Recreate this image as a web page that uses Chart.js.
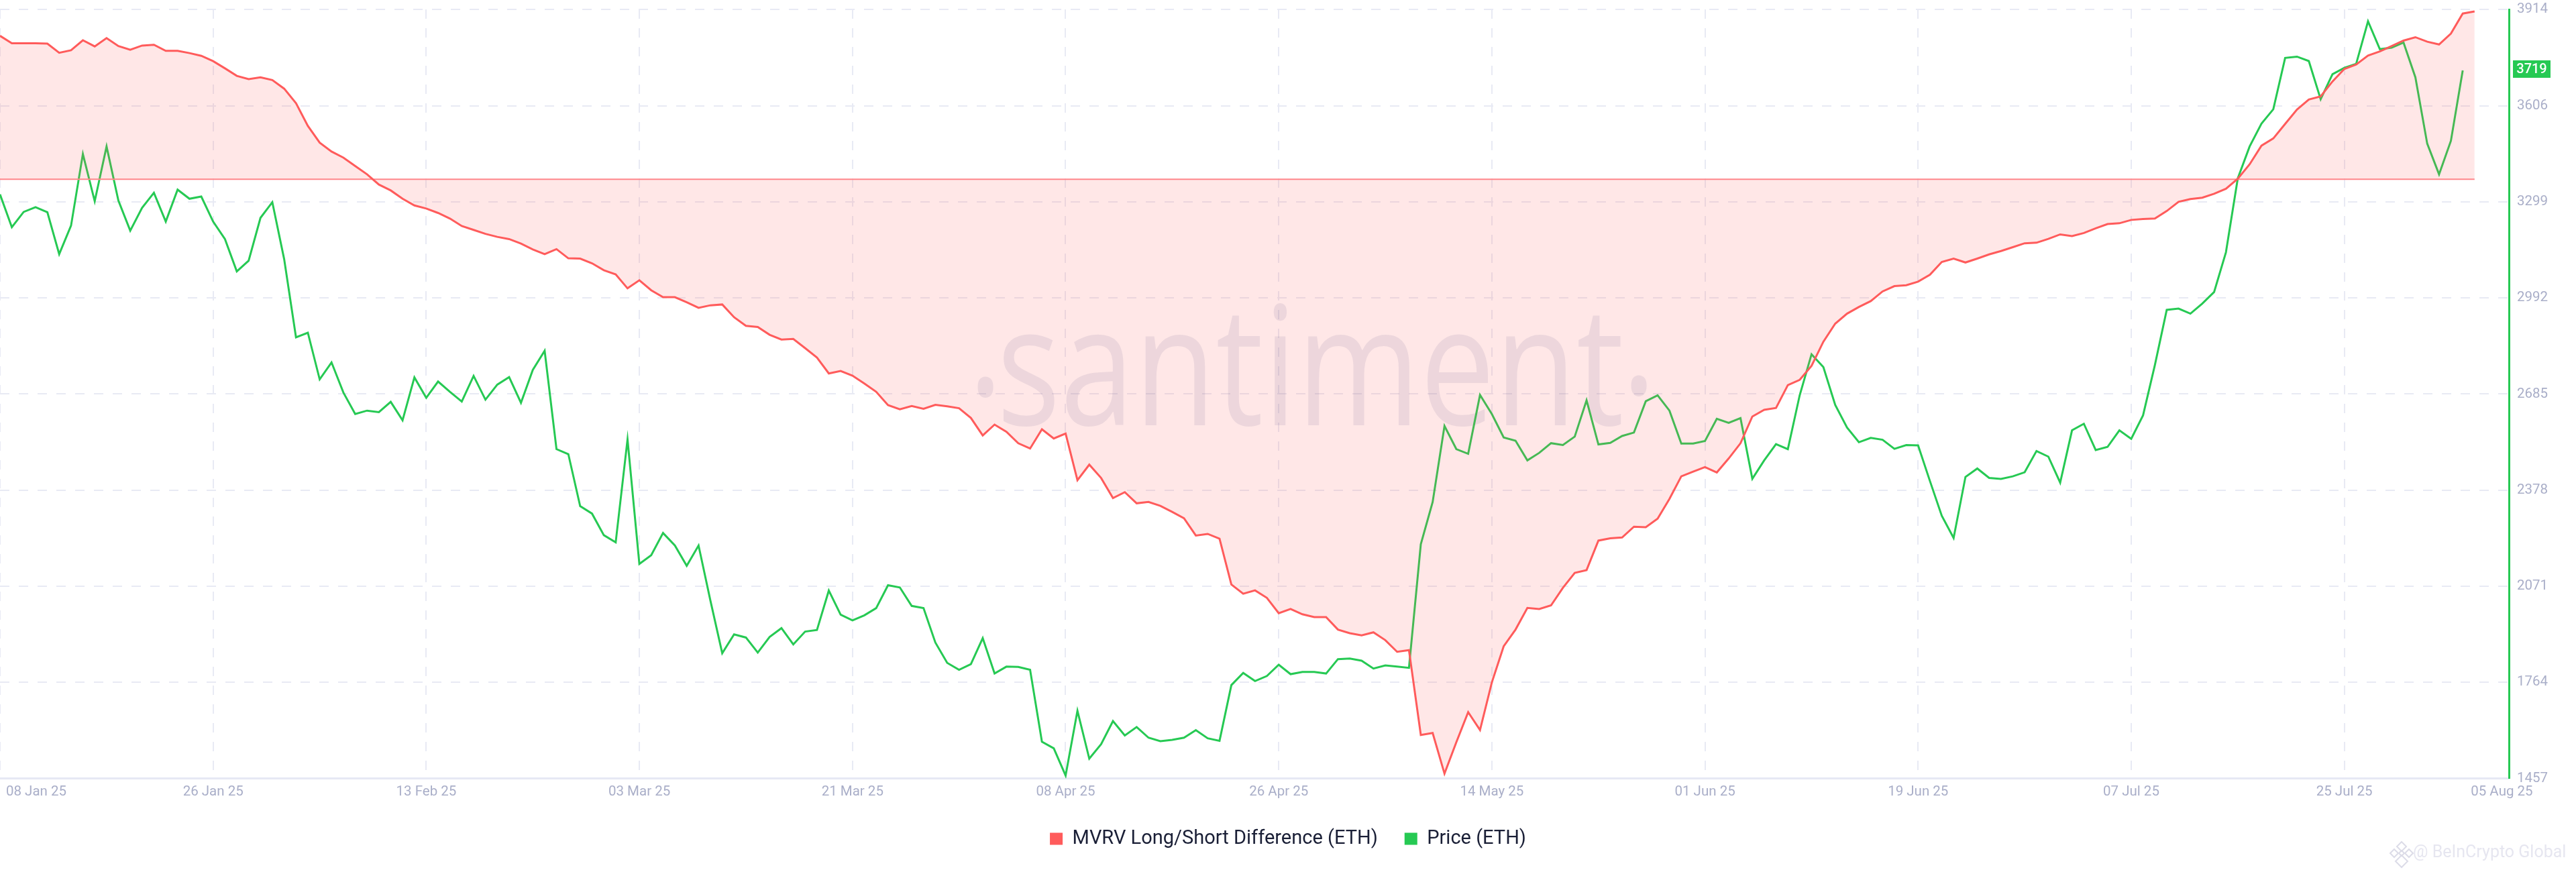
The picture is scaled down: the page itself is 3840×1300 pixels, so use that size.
<!DOCTYPE html>
<html><head><meta charset="utf-8">
<style>html,body{margin:0;padding:0;background:#fff}canvas{display:block}</style>
<script src="https://cdn.jsdelivr.net/npm/chart.js@4"></script>
</head><body><canvas id="c" width="3840" height="1300"></canvas>
<script>
const seriesNames = ["MVRV Long/Short Difference (ETH)", "Price (ETH)"];
const xTickDays = [3.06,18,36,54,72,90,108,126,144,162,180,198,211.3];
const xTickLabels = ["08 Jan 25","26 Jan 25","13 Feb 25","03 Mar 25","21 Mar 25","08 Apr 25","26 Apr 25","14 May 25","01 Jun 25","19 Jun 25","07 Jul 25","25 Jul 25","05 Aug 25"];
const xGridDays = [0,18,36,54,72,90,108,126,144,162,180,198];
const yTicks = [1457,1764,2071,2378,2685,2992,3299,3606,3914];
const mvrv = [5.16,4.89,4.89,4.89,4.88,4.55,4.64,5.00,4.78,5.08,4.79,4.66,4.81,4.84,4.62,4.62,4.54,4.44,4.25,3.99,3.72,3.60,3.67,3.57,3.26,2.74,1.92,1.32,1.00,0.78,0.48,0.18,-0.19,-0.40,-0.70,-0.94,-1.05,-1.21,-1.41,-1.68,-1.82,-1.96,-2.07,-2.15,-2.31,-2.52,-2.69,-2.51,-2.84,-2.85,-3.02,-3.27,-3.42,-3.92,-3.63,-3.99,-4.24,
-4.24,-4.42,-4.62,-4.53,-4.50,-4.96,-5.27,-5.31,-5.59,-5.76,-5.74,-6.07,-6.41,-6.98,-6.89,-7.06,-7.34,-7.64,-8.12,-8.27,-8.15,-8.25,-8.11,-8.16,-8.23,-8.58,-9.21,-8.82,-9.08,-9.49,-9.68,-8.99,-9.32,-9.14,-10.82,-10.26,-10.74,-11.46,-11.25,-11.65,-11.60,-11.74,-11.96,-12.19,-12.81,-12.75,-12.92,-14.57,-14.90,-14.78,-15.05,-15.60,-15.45,-15.64,-15.74,-15.74,-16.19,
-16.32,-16.40,-16.29,-16.57,-16.99,-16.93,-19.98,-19.91,-21.37,-20.24,-19.16,-19.80,-18.09,-16.79,-16.19,-15.41,-15.45,-15.32,-14.69,-14.15,-14.05,-12.99,-12.91,-12.88,-12.49,-12.51,-12.20,-11.49,-10.68,-10.51,-10.35,-10.54,-10.04,-9.49,
-8.53,-8.29,-8.22,-7.40,-7.21,-6.71,-5.84,-5.19,-4.83,-4.59,-4.38,-4.03,-3.84,-3.81,-3.68,-3.43,-2.97,-2.85,-2.99,-2.85,-2.70,-2.58,
-2.44,-2.30,-2.28,-2.14,-1.98,-2.04,-1.93,-1.76,-1.61,-1.58,-1.46,-1.43,-1.41,-1.14,-0.81,-0.71,-0.66,-0.52,-0.34,0.02,0.54,1.21,1.47,1.99,2.51,2.87,2.98,3.52,3.97,4.13,4.45,4.60,4.79,4.99,5.11,4.95,4.85,5.24,5.96,6.04];
const price = [3323,3218,3267,3282,3266,3132,3223,3452,3301,3476,3303,3207,3280,3328,3236,3338,3309,3316,3236,3180,3077,3111,3248,3298,3116,2866,2881,2732,2786,2690,2621,2632,2627,2660,2601,2738,2673,2725,2692,2661,2743,2667,2715,2739,2657,2762,2823,2509,2493,2327,2303,2234,2211,2540,2142,2170,2241,
2201,2136,2201,2025,1857,1917,1907,1859,1909,1937,1885,1926,1931,2057,1980,1962,1978,2001,2074,2067,2008,2001,1891,1826,1804,1822,1905,1792,1814,1813,1804,1574,1553,1466,1673,1520,1566,1640,1594,1621,1587,1576,1580,1587,1611,1585,1577,1755,1794,1768,1784,1820,1790,1797,1797,1792,1838,
1840,1833,1808,1818,1814,1810,2205,2340,2583,2509,2494,2682,2621,2546,2536,2473,2497,2528,2522,2549,2665,2524,2529,2551,2562,2662,2681,2632,2527,2527,2535,2606,2593,2608,
2414,2473,2525,2509,2681,2812,2771,2650,2578,2531,2545,2539,2510,2522,2521,2407,2296,2225,2420,2447,2417,2414,
2422,2435,2503,2485,2402,2569,2590,2506,2516,2569,2542,2617,2778,2954,2958,2942,2974,3011,3138,3374,3476,3549,3595,3759,3763,3749,3627,3707,3727,3740,3876,3787,3792,3808,3697,3485,3387,3494,3719];
const latestPrice = 3719;

const RED = '#ff5b5b', GREEN = '#26c953', GRID = '#e8eaf4', TICK = '#a9aec8';
const FONT = 'Roboto, sans-serif';
const toXY = a => a.map((v,i)=>({x:i,y:v}));

const decor = {
  id:'decor',
  beforeDatasetsDraw(ch){
    const c = ch.ctx; c.save();
    c.fillStyle='rgba(53,69,130,0.10)';
    c.textBaseline='alphabetic';
    c.font='248px "Open Sans"';
    c.save(); c.translate(1486,634); c.scale(0.8,1); c.fillText('santiment',0,0); c.restore();
    c.save(); c.translate(1443,590); c.scale(0.8,1); c.fillText('.',0,0); c.restore();
    c.save(); c.translate(2417,588); c.scale(0.8,1); c.fillText('.',0,0); c.restore();
    c.restore();
  },
  afterDraw(ch){
    const c = ch.ctx, y = ch.scales.y.getPixelForValue(latestPrice) - 2;
    c.save();
    c.fillStyle=GREEN; c.fillRect(3746,y-13,56,26);
    c.fillStyle='#fff'; c.font='500 20px '+FONT; c.textAlign='center'; c.textBaseline='middle';
    c.fillText(String(latestPrice),3774,y+1);
    c.textAlign='left';
    c.font='25px '+FONT;
    c.fillStyle='#e6e6f0';
    c.fillText('@ BeInCrypto Global',3597,1272);
    c.strokeStyle='#dcdce8'; c.lineWidth=2;
    [[3580,1262,7],[3569,1272,6],[3591,1272,6],[3580,1272,4],[3580,1284,9]].forEach(([x,yy,r])=>{
      c.beginPath();c.moveTo(x,yy-r);c.lineTo(x+r,yy);c.lineTo(x,yy+r);c.lineTo(x-r,yy);c.closePath();c.stroke();
    });
    c.restore();
  }
};

new Chart(document.getElementById('c'),{
  type:'line',
  data:{datasets:[
    {label:seriesNames[0],data:toXY(mvrv),yAxisID:'yRed',borderColor:RED,backgroundColor:'rgba(255,91,91,0.15)',borderWidth:3,pointRadius:0,tension:0,fill:'origin',borderJoinStyle:'miter'},
    {label:'zero',data:[{x:0,y:0},{x:209,y:0}],yAxisID:'yRed',borderColor:'#ff8a8f',borderWidth:2,pointRadius:0,tension:0,fill:false},
    {label:seriesNames[1],data:toXY(price),yAxisID:'y',borderColor:GREEN,backgroundColor:GREEN,borderWidth:3,pointRadius:0,tension:0,fill:false,borderJoinStyle:'miter'}
  ]},
  options:{
    responsive:false,animation:false,devicePixelRatio:1,
    layout:{padding:{top:14,left:0,right:0,bottom:25}},
    plugins:{
      tooltip:{enabled:false},
      legend:{
        position:'bottom',
        labels:{
          boxWidth:19,boxHeight:18,padding:40,color:'#1a1f36',
          font:{family:FONT,size:29},
          filter:it=>it.text!=='zero',
          generateLabels(ch){
            return ch.data.datasets.map((d,i)=>({text:d.label,fillStyle:d.borderColor,strokeStyle:d.borderColor,lineWidth:0,datasetIndex:i,fontColor:'#1a1f36'}));
          }
        }
      }
    },
    scales:{
      x:{
        type:'linear',min:0,max:211.9,
        afterBuildTicks(s){s.ticks=[0,...xTickDays].map(v=>({value:v}));},
        afterFit(s){s.paddingLeft=0;s.paddingRight=0;s.height=s.height-5;},
        ticks:{
          autoSkip:false,maxRotation:0,minRotation:0,color:TICK,padding:8,
          font:{family:FONT,size:20.5},
          callback:(v)=>{const i=xTickDays.indexOf(v);return i<0?'':xTickLabels[i];}
        },
        grid:{
          color:c=>xGridDays.includes(c.tick&&c.tick.value)?GRID:'rgba(0,0,0,0)',
          lineWidth:2,drawTicks:false
        },
        border:{color:'#e6e8f4',width:3,dash:[14,14]}
      },
      y:{
        type:'linear',position:'right',min:1457,max:3914,
        afterBuildTicks(s){s.ticks=yTicks.map(v=>({value:v}));},
        afterFit(s){s.width=100;s.paddingTop=0;s.paddingBottom=0;},
        ticks:{color:TICK,padding:12,font:{family:FONT,size:20.5},callback:v=>String(v),autoSkip:false},
        grid:{color:GRID,lineWidth:2,drawTicks:false},
        border:{color:GREEN,width:3,dash:[14,14]}
      },
      yRed:{type:'linear',display:false,min:-21.54,max:6.11}
    }
  },
  plugins:[decor]
});
</script></body></html>
